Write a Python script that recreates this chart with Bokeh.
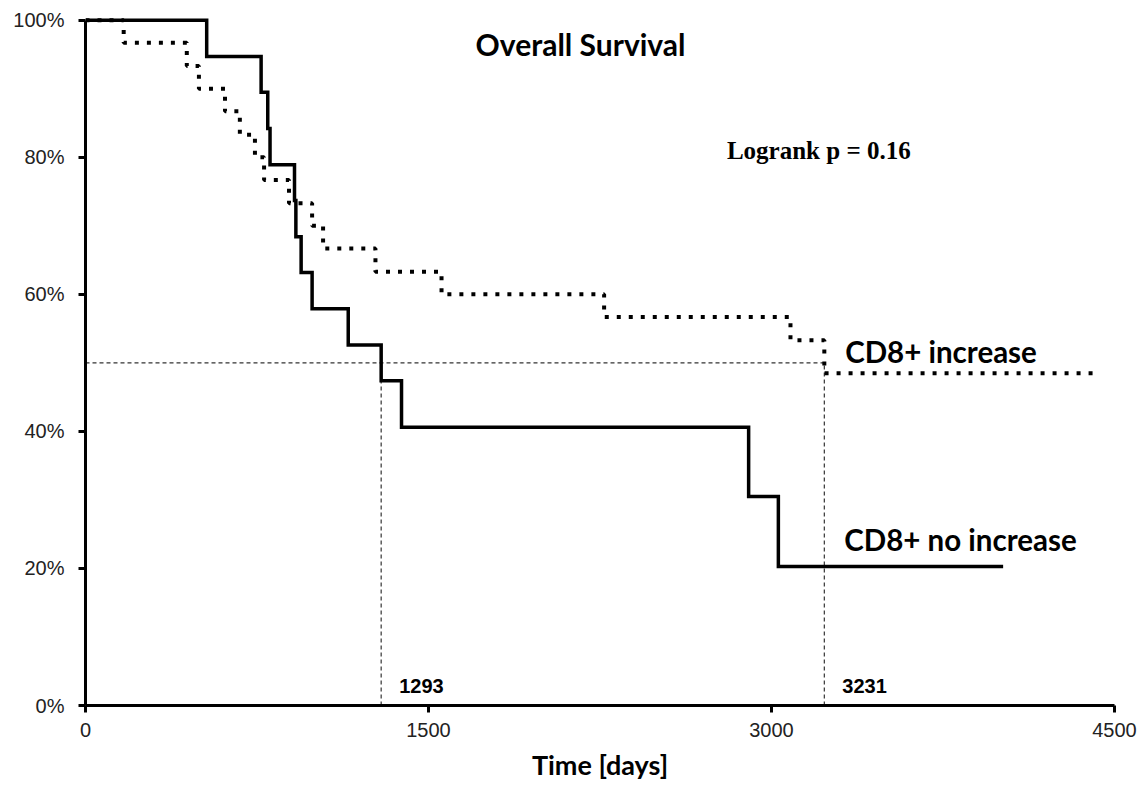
from bokeh.plotting import figure
from bokeh.models import Range1d, Label, FixedTicker, NumeralTickFormatter
from bokeh.embed import file_html
from bokeh.resources import INLINE

# --- data ---
# CD8+ no increase (solid): event times [days] and survival after each step
no_inc_time = [0, 530, 768, 797, 807, 914, 920, 943, 991, 1149, 1293, 1382, 2900, 3030, 4013]
no_inc_surv = [1.0, 0.947, 0.895, 0.842, 0.789, 0.737, 0.684, 0.632, 0.579, 0.526, 0.474, 0.406, 0.305, 0.203, 0.203]

# CD8+ increase (dotted)
inc_time = [0, 167, 443, 496, 610, 675, 741, 781, 890, 991, 1039, 1268, 1557, 2268, 3083, 3231, 4408]
inc_surv = [1.0, 0.967, 0.933, 0.900, 0.867, 0.833, 0.800, 0.767, 0.733, 0.700, 0.667, 0.633, 0.600, 0.567, 0.533, 0.485, 0.485]

median_days = [1293, 3231]
median_labels = ["1293", "3231"]
median_level = 0.5

x_ticks = [0, 1500, 3000, 4500]
y_ticks = [0, 0.2, 0.4, 0.6, 0.8, 1.0]

title_text = "Overall Survival"
pvalue_text = "Logrank p = 0.16"
series_labels = ["CD8+ increase", "CD8+ no increase"]

# --- figure ---
p = figure(width=1144, height=785, output_backend="svg", toolbar_location=None,
           x_range=Range1d(0, 4500), y_range=Range1d(0, 1.02),
           min_border_left=85, min_border_right=30, min_border_top=6, min_border_bottom=80)
p.outline_line_color = None
p.xgrid.visible = False
p.ygrid.visible = False
p.background_fill_color = "white"
p.border_fill_color = "white"

# axes
for ax in (p.xaxis[0], p.yaxis[0]):
    ax.axis_line_width = 3
    ax.axis_line_color = "black"
    ax.major_tick_line_width = 3
    ax.major_tick_line_color = "black"
    ax.major_tick_out = 7
    ax.major_tick_in = 0
    ax.minor_tick_line_color = None
    ax.major_label_text_font = "Liberation Sans"
    ax.major_label_text_font_size = "20px"
    ax.major_label_text_color = "#222222"

p.xaxis.ticker = FixedTicker(ticks=x_ticks)
p.xaxis.formatter = NumeralTickFormatter(format="0")
p.xaxis.bounds = (0, 4500)
p.xaxis.major_label_standoff = 10
p.xaxis.axis_label = "Time [days]"
p.xaxis.axis_label_text_font = "Lato"
p.xaxis.axis_label_text_font_style = "bold"
p.xaxis.axis_label_text_font_size = "27px"
p.xaxis.axis_label_standoff = 8
p.xaxis.axis_label_text_color = "black"

p.yaxis.ticker = FixedTicker(ticks=y_ticks)
p.yaxis.formatter = NumeralTickFormatter(format="0%")
p.yaxis.bounds = (0, 1.0)
p.yaxis.major_label_standoff = 14

# median reference lines
xs0 = [0] + median_days
ys0 = [median_level, 0, 0]
xs1 = [max(median_days)] + median_days
ys1 = [median_level, median_level, median_level]
p.segment(x0=xs0, y0=ys0, x1=xs1, y1=ys1, line_color="#333333", line_width=1.2, line_dash="4 3")

# survival curves
p.step(x=inc_time, y=inc_surv, mode="after", line_color="black", line_width=4,
       line_dash="4 8", line_cap="butt")
p.step(x=no_inc_time, y=no_inc_surv, mode="after", line_color="black", line_width=3.5,
       line_join="miter")

# texts
p.add_layout(Label(x=2165, y=0.966, text=title_text, text_align="center", text_baseline="alphabetic",
                   text_font="Lato", text_font_style="bold", text_font_size="30px", text_color="black"))
p.add_layout(Label(x=2805, y=0.81, text=pvalue_text, text_align="left", text_baseline="alphabetic",
                   text_font="Liberation Serif", text_font_style="bold", text_font_size="25px",
                   text_color="black"))
p.add_layout(Label(x=3322, y=0.517, text=series_labels[0], text_align="left", text_baseline="alphabetic",
                   text_font="Lato", text_font_style="bold", text_font_size="29.5px", text_color="black"))
p.add_layout(Label(x=3318, y=0.242, text=series_labels[1], text_align="left", text_baseline="alphabetic",
                   text_font="Lato", text_font_style="bold", text_font_size="29.5px", text_color="black"))
for d, t in zip(median_days, median_labels):
    p.add_layout(Label(x=d, x_offset=18, y=0.028, text=t, text_align="left", text_baseline="alphabetic",
                       text_font="Liberation Sans", text_font_style="bold", text_font_size="20px",
                       text_color="black"))

open("out.html", "w").write(file_html(p, INLINE))
